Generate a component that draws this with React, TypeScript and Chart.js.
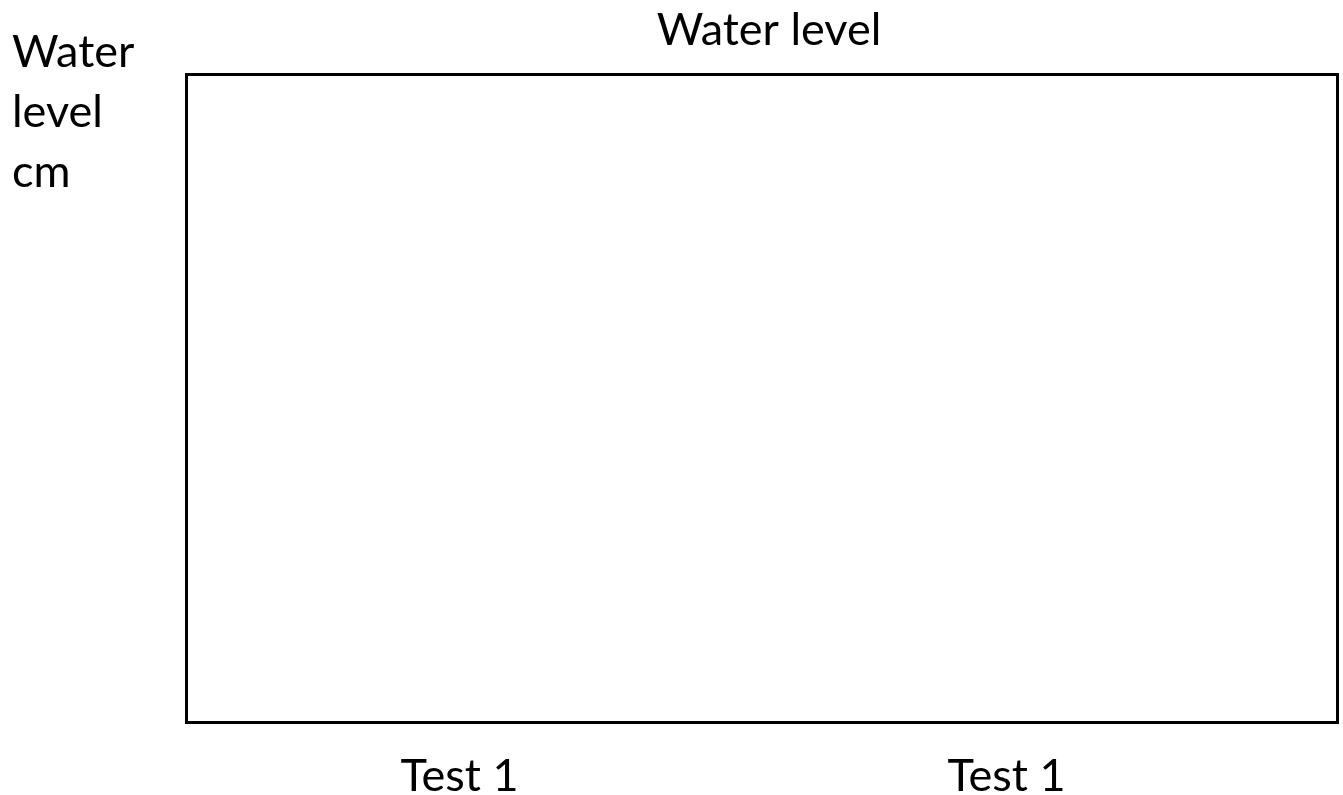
import React, { useEffect, useRef } from "react";
import { Chart, registerables } from "chart.js";

Chart.register(...registerables);

const categories = ["Test 1", "Test 1"];
const waterLevel: (number | null)[] = [null, null];
const titleText = "Water level";
const yLabelLines = ["Water", "level", "cm"];

const FONT = "Lato, 'Open Sans', sans-serif";

const framePlugin = {
  id: "frameAndYLabel",
  afterDraw(chart: any) {
    const { ctx, chartArea } = chart;
    ctx.save();
    ctx.strokeStyle = "#000";
    ctx.lineWidth = 3;
    const left = chartArea.left + 0.5;
    const top = chartArea.top + 0.5;
    const right = chart.width - 5.5;
    const bottom = chartArea.bottom + 1.5;
    ctx.strokeRect(left, top, right - left, bottom - top);
    ctx.fillStyle = "#000";
    ctx.font = `45px ${FONT}`;
    ctx.textAlign = "left";
    ctx.textBaseline = "alphabetic";
    yLabelLines.forEach((line, i) => {
      ctx.fillText(line, 12, 67 + i * 60);
    });
    ctx.restore();
  },
};

export default function App() {
  const canvasRef = useRef<HTMLCanvasElement | null>(null);

  useEffect(() => {
    document.body.style.margin = "0";
    document.body.style.overflow = "hidden";
    const canvas = canvasRef.current;
    if (!canvas) return;
    const chart = new Chart(canvas, {
      type: "bar",
      data: {
        labels: categories,
        datasets: [
          {
            label: titleText,
            data: waterLevel,
            backgroundColor: "#4472c4",
          },
        ],
      },
      options: {
        animation: false,
        responsive: true,
        maintainAspectRatio: false,
        layout: { padding: { left: 186, right: -9, top: 0, bottom: 0 } },
        plugins: {
          legend: { display: false },
          tooltip: { enabled: false },
          title: {
            display: true,
            text: titleText,
            color: "#000",
            fullSize: true,
            font: { family: FONT, size: 45, weight: "normal", lineHeight: 1 },
            padding: { top: 8, bottom: 21 },
          },
        },
        scales: {
          x: {
            type: "category",
            offset: true,
            grid: { display: false, drawTicks: false },
            border: { display: false },
            ticks: {
              color: "#000",
              font: { family: FONT, size: 45, lineHeight: 1 },
              padding: 33,
              maxRotation: 0,
              autoSkip: false,
            },
            afterFit: (s: any) => {
              s.height = 74;
            },
          },
          y: {
            display: false,
            min: 0,
            max: 10,
          },
          y2: {
            position: "right",
            display: true,
            min: 0,
            max: 10,
            grid: { display: false, drawTicks: false },
            border: { display: false },
            ticks: { display: false },
            afterFit: (s: any) => {
              s.width = 72;
            },
          },
        },
      },
      plugins: [framePlugin],
    });
    return () => chart.destroy();
  }, []);

  return (
    <div style={{ position: "relative", width: "1343px", height: "795px" }}>
      <canvas ref={canvasRef} />
    </div>
  );
}
